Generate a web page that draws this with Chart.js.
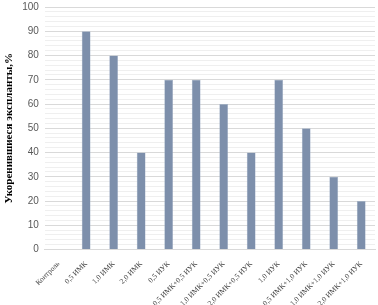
<!DOCTYPE html>
<html>
<head>
<meta charset="utf-8">
<script src="https://cdn.jsdelivr.net/npm/chart.js@4/dist/chart.umd.min.js"></script>
<style>
  html,body{margin:0;padding:0;background:#fff;}
  #wrap{width:378px;height:305px;position:relative;overflow:hidden;}
  #c{position:absolute;left:0;top:-5px;}
</style>
</head>
<body>
<div id="wrap"><canvas id="c" width="378" height="310"></canvas></div>
<script>
  // treatments (mg/l)
  const categories = [
    "Контроль","0,5 ИМК","1,0 ИМК","2,0 ИМК","0,5 ИУК",
    "0,5 ИМК+0,5 ИУК","1,0 ИМК+0,5 ИУК","2,0 ИМК+0,5 ИУК",
    "1,0 ИУК","0,5 ИМК+1,0 ИУК","1,0 ИМК+1,0 ИУК","2,0 ИМК+1,0 ИУК"
  ];
  const rooted = [0, 90, 80, 40, 70, 70, 60, 40, 70, 50, 30, 20];
  const yMin = 0, yMax = 100, yMajor = 10, yMinor = 2;
  const yTitle = "Укоренившиеся экспланты,%";

  new Chart(document.getElementById("c"), {
    type: "bar",
    data: {
      labels: categories,
      datasets: [{
        data: rooted,
        backgroundColor: "#7d8fab",
        borderColor: "#a9b7cc",
        borderWidth: 0.5,
        barPercentage: 0.32,
        categoryPercentage: 1
      }]
    },
    options: {
      responsive: false,
      animation: false,
      layout: { padding: { left: 3, right: 3, top: -14, bottom: -5 } },
      plugins: { legend: { display: false }, tooltip: { enabled: false } },
      scales: {
        x: {
          grid: { display: false },
          border: { color: "#d9d9d9" },
          ticks: {
            autoSkip: false, maxRotation: 45, minRotation: 45,
            color: "#404040",
            font: { family: "Liberation Serif", size: 7.5 },
            padding: 2
          }
        },
        y: {
          min: yMin, max: yMax,
          border: { display: false },
          grid: {
            drawTicks: false,
            color: (ctx) => (ctx.tick && ctx.tick.value % yMajor === 0) ? "#d9d9d9" : "#efefef",
            lineWidth: 1
          },
          ticks: {
            stepSize: yMinor,
            autoSkip: false,
            color: "#595959",
            font: { family: "Liberation Sans", size: 10 },
            padding: 6,
            callback: (v) => (v % yMajor === 0 ? v : "")
          },
          title: {
            display: true, text: yTitle,
            color: "#000",
            font: { family: "Liberation Serif", size: 11, weight: "bold" },
            padding: { top: 0, bottom: 0 }
          }
        }
      }
    }
  });
</script>
</body>
</html>
